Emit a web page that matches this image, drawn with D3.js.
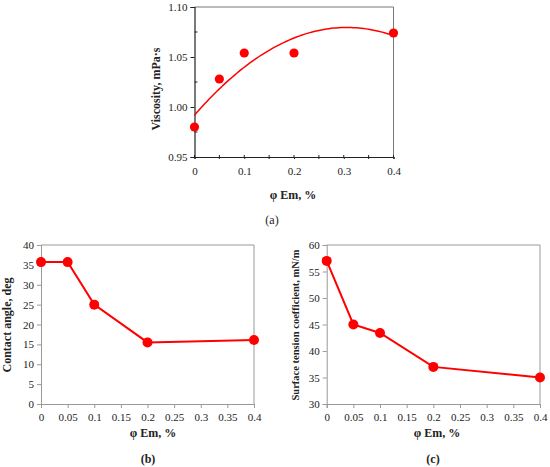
<!DOCTYPE html>
<html><head><meta charset="utf-8">
<script src="https://cdn.jsdelivr.net/npm/d3@7"></script>
<style>
body{margin:0;background:#fff;}
svg text{font-family:"Liberation Serif","Times New Roman","DejaVu Serif",serif !important;}
</style></head>
<body><svg id="c" width="550" height="467"></svg>
<script>
// ---- data ----
const phi = [0, 0.05, 0.1, 0.2, 0.4];
const viscosity = [0.980, 1.028, 1.054, 1.054, 1.074];
const contactAngle = [35.7, 35.7, 25.0, 15.5, 16.1];
const surfaceTension = [57.0, 45.0, 43.4, 37.0, 35.0];
const xTicksA = [0, 0.1, 0.2, 0.3, 0.4];
const xMinorA = [0.05, 0.15, 0.25, 0.35];
const yTicksA = [0.95, 1.00, 1.05, 1.10];
const yMinorA = [0.975, 1.025, 1.075];
const xTicksBC = [0, 0.05, 0.1, 0.15, 0.2, 0.25, 0.3, 0.35, 0.4];
const yTicksB = [0, 5, 10, 15, 20, 25, 30, 35, 40];
const yTicksC = [30, 35, 40, 45, 50, 55, 60];

const svg = d3.select("#c");
const RED = "#ff0000";

// least-squares quadratic trendline for viscosity
function quadFit(xs, ys) {
  const n = xs.length;
  let S = [0,0,0,0,0], T = [0,0,0];
  for (let i = 0; i < n; i++) {
    for (let k = 0; k < 5; k++) S[k] += Math.pow(xs[i], k);
    for (let k = 0; k < 3; k++) T[k] += ys[i] * Math.pow(xs[i], k);
  }
  const M = [[S[0],S[1],S[2],T[0]],[S[1],S[2],S[3],T[1]],[S[2],S[3],S[4],T[2]]];
  for (let i = 0; i < 3; i++) {
    for (let j = i + 1; j < 3; j++) {
      const f = M[j][i] / M[i][i];
      for (let k = i; k < 4; k++) M[j][k] -= f * M[i][k];
    }
  }
  const c = [0,0,0];
  for (let i = 2; i >= 0; i--) {
    let s = M[i][3];
    for (let k = i + 1; k < 3; k++) s -= M[i][k] * c[k];
    c[i] = s / M[i][i];
  }
  return x => c[0] + c[1] * x + c[2] * x * x;
}

// ---------- Panel (a) ----------
(function(){
  const x = d3.scaleLinear().domain([0, 0.4]).range([194.5, 393.5]);
  const y = d3.scaleLinear().domain([0.95, 1.10]).range([157, 7]);
  const g = svg.append("g");
  g.append("path").attr("d", `M${x(0)},${y(1.10)}H${x(0.4)}V${y(0.95)}`)
    .attr("fill","none").attr("stroke","#777").attr("stroke-width",1);
  const ya = d3.axisLeft(y).tickValues(yTicksA).tickFormat(d3.format(".2f")).tickSize(4).tickPadding(3);
  const yg = g.append("g").attr("transform",`translate(${x(0)},0)`).call(ya);
  const xa = d3.axisBottom(x).tickValues(xTicksA).tickFormat(d => d === 0 ? "0" : d3.format(".1f")(d)).tickSize(2).tickPadding(8);
  const xg = g.append("g").attr("transform",`translate(0,${y(0.95)})`).call(xa);
  [yg, xg].forEach(a => {
    a.select(".domain").attr("stroke","#222").attr("stroke-width",1.2);
    a.selectAll(".tick line").attr("stroke","#222");
    a.selectAll("text").attr("font-size",11).attr("fill","#222");
  });
  g.selectAll(".xminA").data(xMinorA).join("line")
    .attr("x1", d => x(d)).attr("x2", d => x(d))
    .attr("y1", y(0.95) - 2).attr("y2", y(0.95) + 2).attr("stroke","#222");
  g.selectAll(".xmaj2").data(xTicksA).join("line")
    .attr("x1", d => x(d)).attr("x2", d => x(d))
    .attr("y1", y(0.95) - 2).attr("y2", y(0.95)).attr("stroke","#222");
  g.selectAll(".yminA").data(yMinorA).join("line")
    .attr("x1", x(0)).attr("x2", x(0) + 3)
    .attr("y1", d => y(d)).attr("y2", d => y(d)).attr("stroke","#222");
  const f = quadFit(phi, viscosity);
  const xs = d3.range(0, 0.4001, 0.005);
  g.append("path").datum(xs)
    .attr("d", d3.line().x(d => x(d)).y(d => y(f(d))))
    .attr("fill","none").attr("stroke",RED).attr("stroke-width",1.5);
  g.selectAll(".pt").data(phi).join("circle")
    .attr("cx", d => x(d)).attr("cy", (d,i) => y(viscosity[i])).attr("r",4.6).attr("fill",RED);
  g.append("text").attr("transform",`translate(160,${(y(0.95)+y(1.10))/2 + 7}) rotate(-90)`)
    .attr("text-anchor","middle").attr("font-weight","bold").attr("font-size",12).attr("fill","#222")
    .text("Viscosity, mPa·s");
  g.append("text").attr("x", 293).attr("y", 199).attr("text-anchor","middle")
    .attr("font-weight","bold").attr("font-size",12).attr("fill","#222").text("φ Em, %");
  g.append("text").attr("x", 272).attr("y", 224).attr("text-anchor","middle")
    .attr("font-size",12).attr("fill","#222").text("(a)");
})();

// ---------- Panels (b) and (c) ----------
function linePanel(opts) {
  const x = d3.scaleLinear().domain([0, 0.4]).range(opts.xr);
  const y = d3.scaleLinear().domain(opts.yd).range(opts.yr);
  const g = svg.append("g");
  g.append("path").attr("d", `M${x(0)},${y(opts.yd[1])}H${x(0.4)}V${y(opts.yd[0])}`)
    .attr("fill","none").attr("stroke","#999").attr("stroke-width",1);
  const ya = d3.axisLeft(y).tickValues(opts.yt).tickFormat(d3.format("d")).tickSize(4).tickPadding(3);
  const yg = g.append("g").attr("transform",`translate(${x(0)},0)`).call(ya);
  const xa = d3.axisBottom(x).tickValues(xTicksBC).tickFormat(d => d === 0 ? "0" : String(d)).tickSize(4).tickPadding(5);
  const xg = g.append("g").attr("transform",`translate(0,${y(opts.yd[0])})`).call(xa);
  [yg, xg].forEach(a => {
    a.select(".domain").attr("stroke","#999");
    a.selectAll(".tick line").attr("stroke","#999");
    a.selectAll("text").attr("font-size",11).attr("fill","#222");
  });
  g.append("path").datum(phi)
    .attr("d", d3.line().x(d => x(d)).y((d,i) => y(opts.vals[i])))
    .attr("fill","none").attr("stroke",RED).attr("stroke-width",2);
  g.selectAll(".pt").data(phi).join("circle")
    .attr("cx", d => x(d)).attr("cy", (d,i) => y(opts.vals[i])).attr("r",5).attr("fill",RED);
  g.append("text").attr("transform",`translate(${opts.tx},${opts.ty}) rotate(-90)`)
    .attr("text-anchor","middle").attr("font-weight","bold").attr("font-size",opts.tfs).attr("fill","#222")
    .text(opts.title);
  g.append("text").attr("x", opts.xt).attr("y", 437).attr("text-anchor","middle")
    .attr("font-weight","bold").attr("font-size",12).attr("fill","#222").text("φ Em, %");
  g.append("text").attr("x", opts.lx).attr("y", 463).attr("text-anchor","middle")
    .attr("font-weight","bold").attr("font-size",12).attr("fill","#222").text(opts.label);
}

linePanel({xr:[41, 254], yd:[0,40], yr:[404,245], yt:yTicksB, vals:contactAngle,
  title:"Contact angle, deg", tx:11, ty:325, tfs:12, xt:153, lx:148, label:"(b)"});
linePanel({xr:[326.7, 540], yd:[30,60], yr:[404,245], yt:yTicksC, vals:surfaceTension,
  title:"Surface tension coefficient, mN/m", tx:299, ty:325, tfs:10.5, xt:437, lx:433, label:"(c)"});
</script></body></html>
